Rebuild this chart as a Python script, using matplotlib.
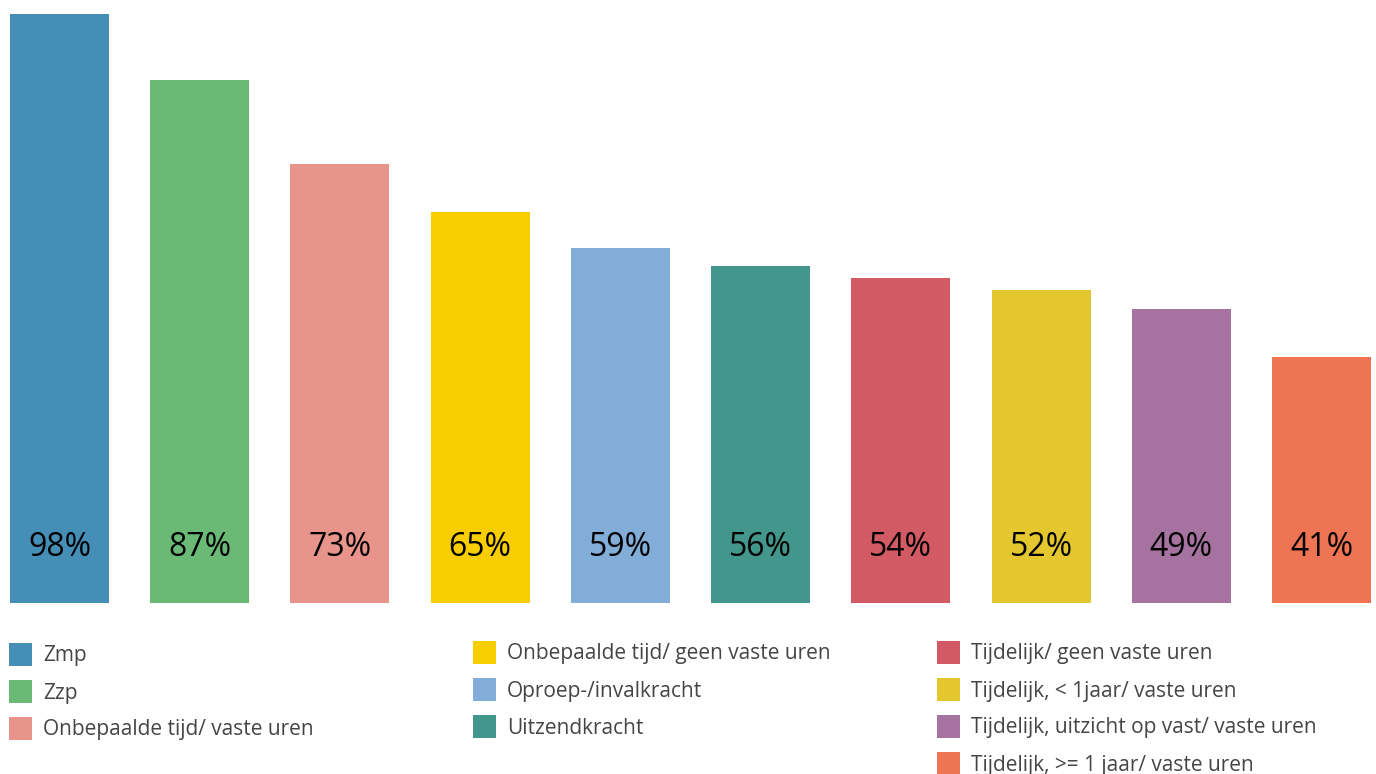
import matplotlib.pyplot as plt
from matplotlib.patches import Rectangle

# categories and values (percent)
categories = ['Zmp', 'Zzp', 'Onbepaalde tijd/ vaste uren',
              'Onbepaalde tijd/ geen vaste uren', 'Oproep-/invalkracht',
              'Uitzendkracht', 'Tijdelijk/ geen vaste uren',
              'Tijdelijk, < 1jaar/ vaste uren',
              'Tijdelijk, uitzicht op vast/ vaste uren',
              'Tijdelijk, >= 1 jaar/ vaste uren']
values = [98, 87, 73, 65, 59, 56, 54, 52, 49, 41]
colors = ['#458EB6', '#6ABA75', '#E9948B', '#F8CE00', '#82ADD9',
          '#42968C', '#D15A64', '#E4C72F', '#A672A0', '#EE7453']

W, H = 1376, 774
fig = plt.figure(figsize=(W / 100, H / 100), dpi=100)
ax = fig.add_axes([10 / W, (H - 603) / H, 1361 / W, 589 / H])

bw = 0.706
x = list(range(len(values)))
ax.bar(x, values, width=bw, color=colors)
ax.set_xlim(-bw / 2, len(values) - 1 + bw / 2)
ax.set_ylim(0, 98)
ax.axis('off')

for xi, v in zip(x, values):
    ax.annotate(f'{v}%', (xi, 0), xytext=(0, 56), textcoords='offset pixels',
                ha='center', va='center', fontsize=23, color='black',
                family=['Open Sans', 'DejaVu Sans'])

# legend, three columns laid out by hand (pixel positions)
cols = [(9, 654, [0, 1, 2]), (473, 652, [3, 4, 5]), (937, 652, [6, 7, 8, 9])]
sq = 23
for px, py, idx in cols:
    for r, i in enumerate(idx):
        yc = py + r * 37
        fig.add_artist(Rectangle((px / W, (H - yc - sq / 2) / H), sq / W, sq / H,
                                 transform=fig.transFigure, color=colors[i], lw=0))
        fig.text((px + 34) / W, (H - yc - 2) / H, categories[i], ha='left', va='center',
                 fontsize=15, color='#454545',
                 family=['Open Sans', 'DejaVu Sans'])

fig.savefig('out.png', dpi=100)
